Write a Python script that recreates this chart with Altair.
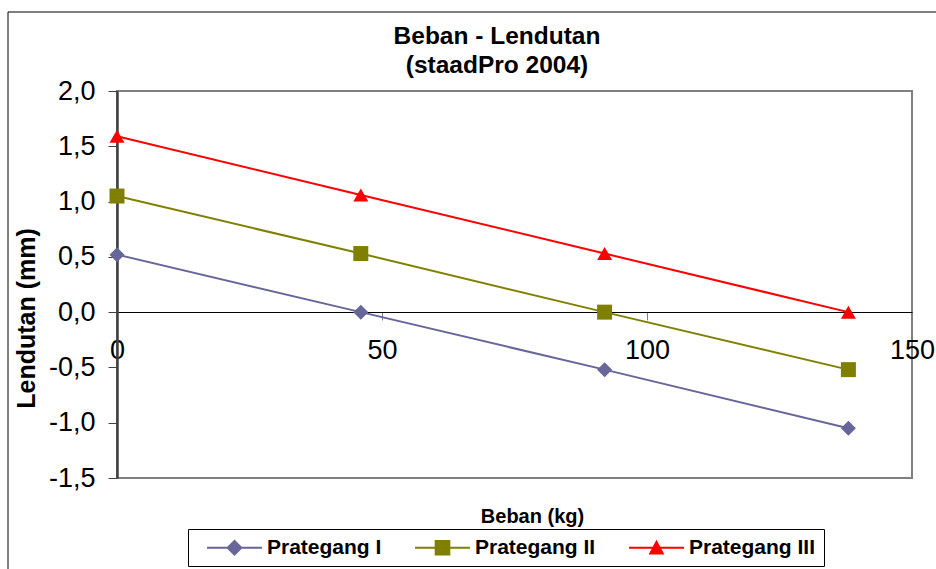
import altair as alt
import pandas as pd

# ---- data ----
beban = [0, 46, 92, 138]
series_names = ["Prategang I", "Prategang II", "Prategang III"]
lendutan_1 = [0.52, 0.0, -0.52, -1.05]
lendutan_2 = [1.05, 0.53, 0.0, -0.52]
lendutan_3 = [1.59, 1.06, 0.53, 0.0]
colors = ["#666699", "#808000", "#FF0000"]
marker_shapes = ["diamond", "square", "triangle-up"]
marker_sizes = [225, 225, 289]
x_ticks = [0, 50, 100, 150]
y_ticks = [-1.5, -1.0, -0.5, 0.0, 0.5, 1.0, 1.5, 2.0]
title_lines = ["Beban - Lendutan", "(staadPro 2004)"]

# legend glyphs: line + marker (unit = 8.5 px, symbol size 17 px)
LINE = "M-3.235,-0.118H3.235V0.118H-3.235Z "
legend_paths = [
    LINE + "M0,-0.97L0.97,0L0,0.97L-0.97,0Z",
    LINE + "M-0.92,-0.92H0.92V0.92H-0.92Z",
    LINE + "M0,-0.95L0.93,0.8L-0.93,0.8Z",
]

rows = []
for name, vals in zip(series_names, [lendutan_1, lendutan_2, lendutan_3]):
    for b, v in zip(beban, vals):
        rows.append({"beban": b, "lendutan": v, "seri": name})
df = pd.DataFrame(rows)

FONT = "Liberation Sans"
W, H = 795, 387
LEFT, TOP = 117, 91

xscale = alt.Scale(domain=[0, 150], nice=False, zero=False)
yscale = alt.Scale(domain=[-1.5, 2.0], nice=False, zero=False)

x_axis = alt.Axis(
    values=x_ticks, format="d", offset=-166, grid=False,
    domainColor="black", domainWidth=1,
    tickColor="#808080", tickSize=8, tickWidth=1,
    labelFont=FONT, labelFontSize=27, labelColor="black", labelPadding=17,
    labelFlush=False, labelOverlap=False,
    title="Beban (kg)", titleFont=FONT, titleFontSize=20, titleFontWeight="bold",
    titleColor="black", titleX=415, titleY=210, titleBaseline="alphabetic",
    titleAlign="center", titleAnchor="middle",
)
y_axis = alt.Axis(
    values=y_ticks, grid=False,
    labelExpr="(datum.value < 0 ? '-' : '') + replace(format(abs(datum.value), '.1f'), '.', ',')",
    domainColor="#404040", domainWidth=2.5,
    tickColor="#404040", tickSize=9, tickWidth=1,
    labelFont=FONT, labelFontSize=27, labelColor="black", labelPadding=13,
    labelFlush=False, labelOverlap=False,
    title="Lendutan (mm)", titleFont=FONT, titleFontSize=25, titleFontWeight="bold",
    titleColor="black", titleX=-83, titleY=227, titleAngle=270,
    titleBaseline="alphabetic", titleAlign="center",
)

base = alt.Chart(df).encode(
    x=alt.X("beban:Q", scale=xscale, axis=x_axis),
    y=alt.Y("lendutan:Q", scale=yscale, axis=y_axis),
)

one = pd.DataFrame({"k": [0]})

frame = alt.Chart(one).mark_rect(
    filled=False, stroke="black", strokeWidth=1
).encode(
    x=alt.value(8 - LEFT), x2=alt.value(W + 60),
    y=alt.value(12 - TOP), y2=alt.value(H + 120),
)

title1 = alt.Chart(one).mark_text(
    font=FONT, fontSize=24.5, fontWeight="bold", color="black",
    align="center", baseline="alphabetic",
).encode(x=alt.value(497 - LEFT), y=alt.value(44 - TOP), text=alt.value(title_lines[0]))

title2 = alt.Chart(one).mark_text(
    font=FONT, fontSize=24.5, fontWeight="bold", color="black",
    align="center", baseline="alphabetic",
).encode(x=alt.value(497 - LEFT), y=alt.value(73 - TOP), text=alt.value(title_lines[1]))

lines = base.mark_line(strokeWidth=2).encode(
    color=alt.Color("seri:N", scale=alt.Scale(domain=series_names, range=colors), legend=None),
    order="beban:Q",
)

points = base.mark_point(filled=True, opacity=1, strokeWidth=0).encode(
    color=alt.Color("seri:N", scale=alt.Scale(domain=series_names, range=colors), legend=None),
    shape=alt.Shape("seri:N", scale=alt.Scale(domain=series_names, range=marker_shapes), legend=None),
    size=alt.Size("seri:N", scale=alt.Scale(domain=series_names, range=marker_sizes), legend=None),
)

leg = alt.Legend(
    title=None, orient="none", legendX=188 - LEFT, legendY=529 - TOP,
    direction="horizontal", strokeColor="black", fillColor="white", padding=8,
    symbolSize=289, symbolStrokeWidth=0, symbolOffset=28,
    labelFont=FONT, labelFontSize=21, labelFontWeight="bold", labelColor="black",
    labelOffset=22, columnPadding=22,
)

legend_layer = base.mark_point(filled=True, opacity=1, strokeWidth=0).encode(
    color=alt.Color("seri:N", scale=alt.Scale(domain=series_names, range=colors), legend=leg),
    shape=alt.Shape("seri:N", scale=alt.Scale(domain=series_names, range=legend_paths), legend=leg),
).transform_filter("datum.beban < -1000")

chart = alt.layer(frame, title1, title2, lines, points, legend_layer).resolve_scale(
    color="independent", shape="independent", size="independent"
).properties(
    width=W, height=H,
    padding={"left": LEFT, "top": TOP, "right": 936 - LEFT - W, "bottom": 569 - TOP - H},
    autosize=alt.AutoSizeParams(type="none"),
    background="white",
).configure_view(stroke="#808080", strokeWidth=2)

chart.save("out.html", embed_options={"renderer": "svg", "actions": False})
